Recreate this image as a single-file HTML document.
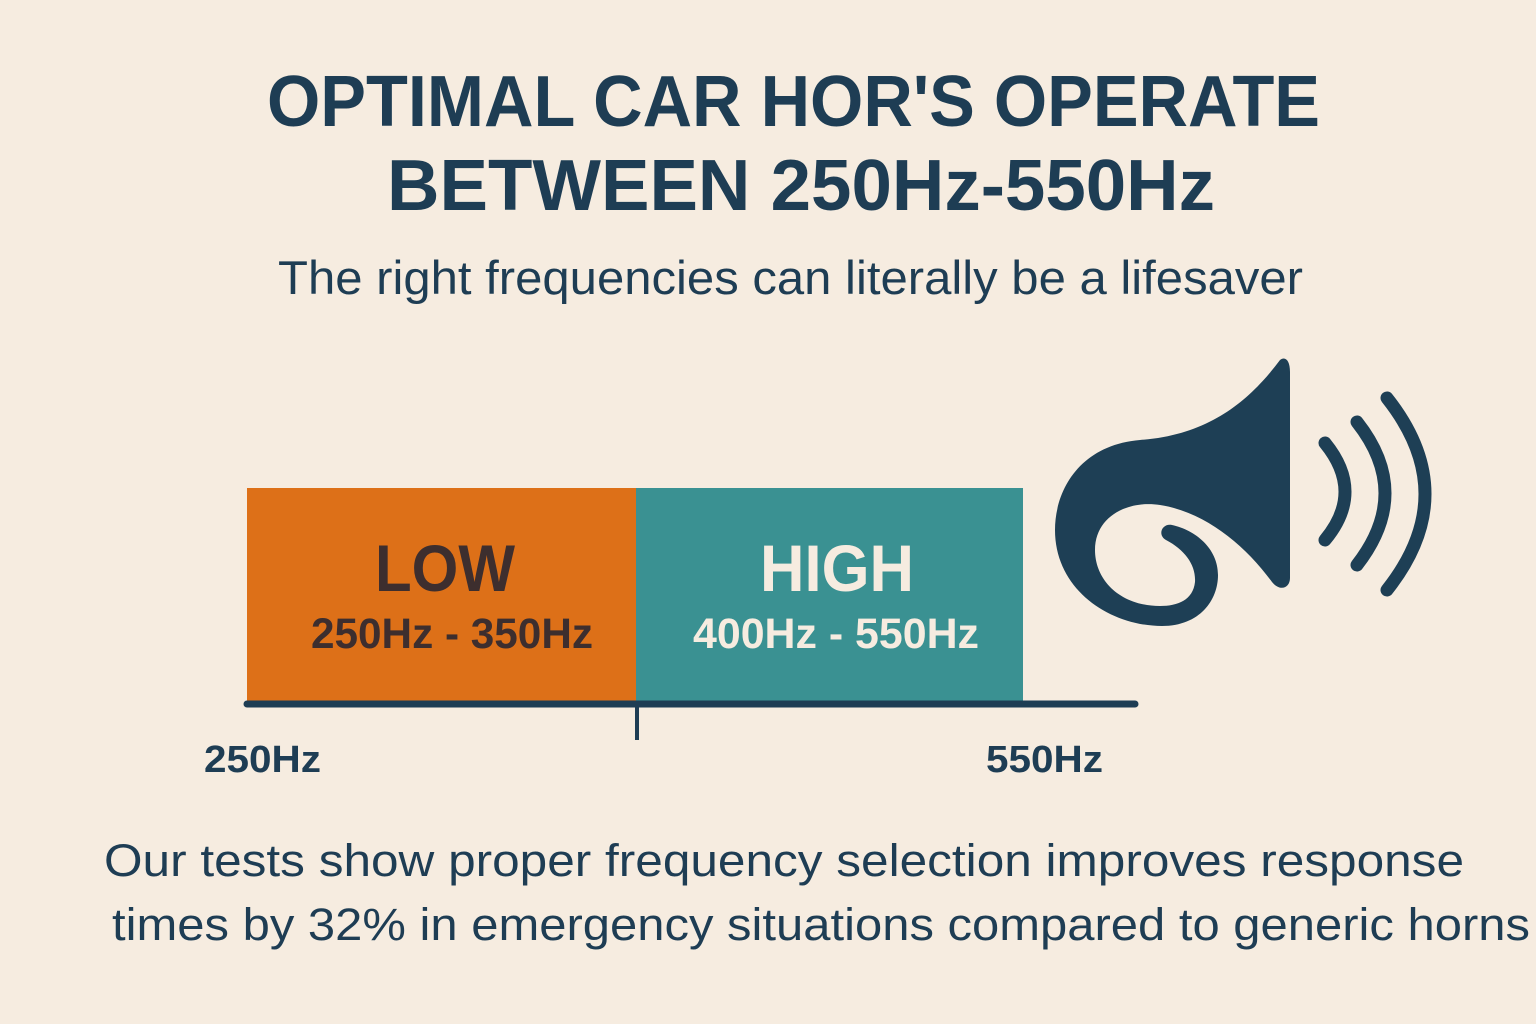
<!DOCTYPE html>
<html><head><meta charset="utf-8"><style>
html,body{margin:0;padding:0;background:#f6ece0;}
svg{display:block;}
text{font-family:"Liberation Sans",sans-serif;}
</style></head><body>
<svg width="1536" height="1024" viewBox="0 0 1536 1024" xmlns="http://www.w3.org/2000/svg">
<rect width="1536" height="1024" fill="#f6ece0"/>
<g fill="#1e3d54" font-weight="bold">
<text x="267" y="126" font-size="72" textLength="1053" lengthAdjust="spacingAndGlyphs">OPTIMAL CAR HOR'S OPERATE</text>
<text x="387" y="210" font-size="72" textLength="828" lengthAdjust="spacingAndGlyphs">BETWEEN 250Hz-550Hz</text>
</g>
<text x="278" y="294" font-size="47" fill="#1e3d54" textLength="1025" lengthAdjust="spacingAndGlyphs">The right frequencies can literally be a lifesaver</text>
<rect x="247" y="488" width="389" height="214" fill="#dd7018"/>
<rect x="636" y="488" width="387" height="214" fill="#3a9192"/>
<text x="375" y="591" font-size="66" font-weight="bold" fill="#3d2e2e" textLength="140" lengthAdjust="spacingAndGlyphs">LOW</text>
<text x="311" y="648" font-size="43" font-weight="bold" fill="#3d2e2e" textLength="282" lengthAdjust="spacingAndGlyphs">250Hz - 350Hz</text>
<text x="760" y="591" font-size="66" font-weight="bold" fill="#f6ece0" textLength="154" lengthAdjust="spacingAndGlyphs">HIGH</text>
<text x="693" y="648" font-size="43" font-weight="bold" fill="#f6ece0" textLength="286" lengthAdjust="spacingAndGlyphs">400Hz - 550Hz</text>
<line x1="247" y1="704" x2="1135" y2="704" stroke="#1e3d54" stroke-width="7" stroke-linecap="round"/>
<line x1="637" y1="704" x2="637" y2="740" stroke="#1e3d54" stroke-width="4"/>
<text x="204" y="772" font-size="38" font-weight="bold" fill="#1e3d54" textLength="117" lengthAdjust="spacingAndGlyphs">250Hz</text>
<text x="986" y="772" font-size="38" font-weight="bold" fill="#1e3d54" textLength="117" lengthAdjust="spacingAndGlyphs">550Hz</text>
<text x="104" y="876" font-size="45" fill="#1e3d54" textLength="1360" lengthAdjust="spacingAndGlyphs">Our tests show proper frequency selection improves response</text>
<text x="112" y="940" font-size="45" fill="#1e3d54" textLength="1418" lengthAdjust="spacingAndGlyphs">times by 32% in emergency situations compared to generic horns</text>
<g fill="#1e3f55">
<path d="M1280,360 C1250,400 1210,435 1140,440 C1080,445 1055,490 1055,530 C1055,590 1110,626 1162,626 C1200,626 1218,600 1218,575 C1218,548 1195,530 1172,525 C1162,523 1157,535 1166,540 C1185,550 1196,565 1195,582 C1193,600 1178,606 1160,606 C1120,606 1095,580 1095,550 C1095,515 1130,500 1160,505 C1205,512 1245,545 1272,582 C1280,592 1290,588 1290,578 L1290,372 C1290,360 1285,356 1280,360 Z"/>
</g>
<g fill="none" stroke="#1e3f55" stroke-width="13" stroke-linecap="round">
<path d="M1325,443 Q1365,492 1325,540"/>
<path d="M1357,422 Q1413,493 1357,565"/>
<path d="M1387,398 Q1463,494 1387,590"/>
</g>
</svg>
</body></html>
